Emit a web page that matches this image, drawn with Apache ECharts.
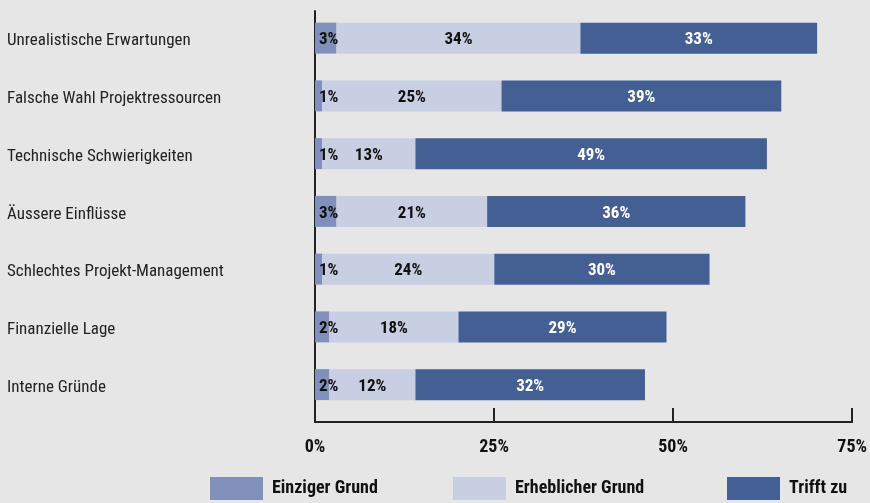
<!DOCTYPE html>
<html>
<head>
<meta charset="utf-8">
<script src="https://cdn.jsdelivr.net/npm/echarts@6/dist/echarts.min.js"></script>
<style>
	html,body{margin:0;padding:0;background:#e6e6e6;}
	#chart{width:870px;height:503px;}
</style>
</head>
<body>
<div id="chart"></div>
<script>
	// Gründe, von oben nach unten
	var categories = ['Unrealistische Erwartungen','Falsche Wahl Projektressourcen','Technische Schwierigkeiten','Äussere Einflüsse','Schlechtes Projekt-Management','Finanzielle Lage','Interne Gründe'];
	var einziger = [3,1,1,3,1,2,2];		//Einziger Grund
	var erheblich = [34,25,13,21,24,18,12];	//Erheblicher Grund
	var trifft = [33,39,49,36,30,29,32];	//Trifft zu
	var xTicks = [0,25,50,75];

	var font = '"Roboto Condensed","DejaVu Sans Condensed",sans-serif';
	var colors = ['#8090ba','#c9cfe3','#435f94'];
	var names = ['Einziger Grund','Erheblicher Grund','Trifft zu'];

	var chart = echarts.init(document.getElementById('chart'));

	function barSeries(i,data,labelColor,pos){
		return {
			name:names[i],
			type:'bar',
			stack:'all',
			xAxisIndex:0,
			yAxisIndex:0,
			barWidth:31,
			itemStyle:{color:colors[i]},
			label:{
				show:true,
				position:pos,
				distance:4,
				offset:[0,2],
				formatter:'{c}%',
				color:labelColor,
				fontFamily:font,
				fontWeight:'bold',
				fontSize:17
			},
			data:data
		};
	}

	var legendBase = {
		top:477,
		padding:0,
		itemWidth:53,
		itemHeight:23,
		itemGap:0,
		icon:'rect',
		textStyle:{fontFamily:font,fontWeight:'bold',fontSize:18,color:'#111',verticalAlign:'top',lineHeight:6,padding:[0,0,0,4]}
	};

	chart.setOption({
		backgroundColor:'#e6e6e6',
		animation:false,
		legend:[
			Object.assign({},legendBase,{left:210,data:[names[0]]}),
			Object.assign({},legendBase,{left:453,data:[names[1]]}),
			Object.assign({},legendBase,{left:727,data:[names[2]]})
		],
		grid:[
			{left:315,width:538,top:9.25,height:404.25},	//Balken
			{left:315,width:538,top:11,height:411}		//Achsen
		],
		xAxis:[{
			gridIndex:0,
			type:'value',
			min:0,
			max:75,
			show:false
		},{
			gridIndex:1,
			type:'value',
			min:xTicks[0],
			max:xTicks[xTicks.length-1],
			interval:25,
			axisLine:{show:true,onZero:false,lineStyle:{color:'#222',width:2}},
			axisTick:{show:true,inside:true,length:14,lineStyle:{color:'#222',width:2}},
			splitLine:{show:false},
			axisLabel:{
				formatter:'{value}%',
				margin:16,
				color:'#111',
				fontFamily:font,
				fontWeight:'bold',
				fontSize:18
			}
		}],
		yAxis:[{
			gridIndex:0,
			type:'category',
			inverse:true,
			data:categories,
			axisLine:{show:false},
			axisTick:{show:false},
			axisLabel:{
				align:'left',
				verticalAlign:'top',
				lineHeight:6,
				margin:308,
				color:'#222',
				fontFamily:font,
				fontSize:17
			}
		},{
			gridIndex:1,
			type:'value',
			min:0,
			max:1,
			axisLine:{show:true,onZero:false,lineStyle:{color:'#222',width:2}},
			axisTick:{show:false},
			axisLabel:{show:false},
			splitLine:{show:false}
		}],
		series:[
			barSeries(0,einziger,'#111','insideLeft'),
			barSeries(1,erheblich,'#111','inside'),
			barSeries(2,trifft,'#fff','inside')
		]
	});
</script>
</body>
</html>
